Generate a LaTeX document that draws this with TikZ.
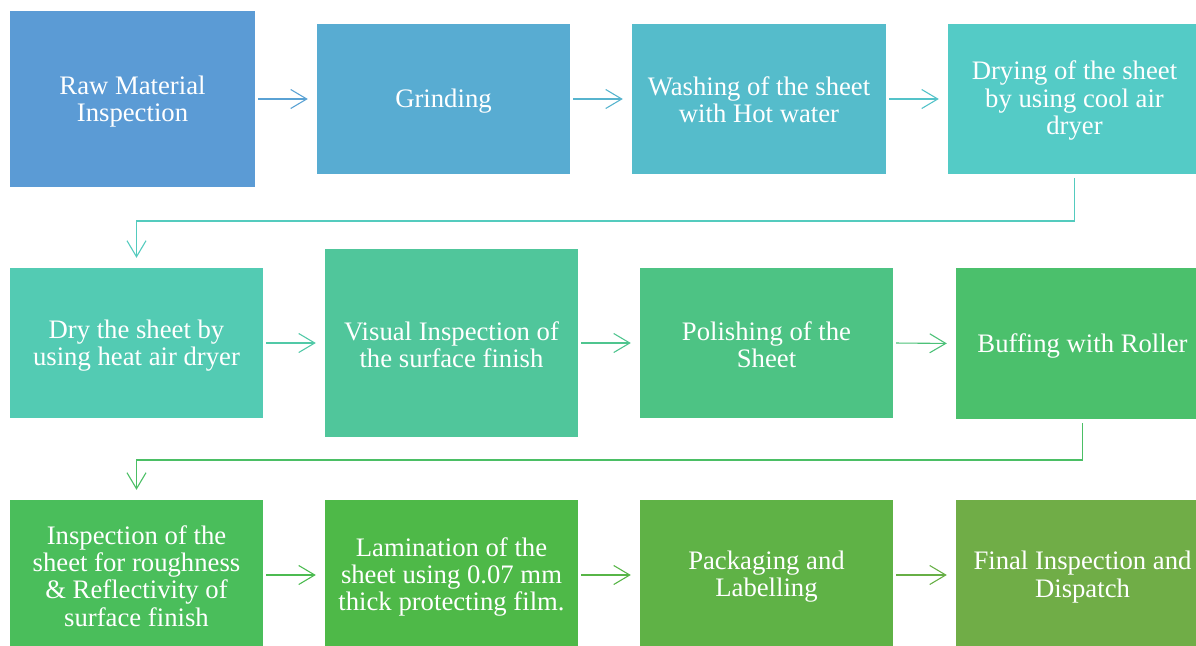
\documentclass[tikz,border=0pt]{standalone}
\usepackage{fontspec}
\setmainfont{Liberation Serif}
\usetikzlibrary{arrows.meta}
\definecolor{c1}{HTML}{5B9BD5}
\definecolor{c2}{HTML}{58ACD2}
\definecolor{c3}{HTML}{55BCCB}
\definecolor{c4}{HTML}{54CBC6}
\definecolor{c5}{HTML}{53CBB3}
\definecolor{c6}{HTML}{50C69B}
\definecolor{c7}{HTML}{4DC384}
\definecolor{c8}{HTML}{4BC06C}
\definecolor{c9}{HTML}{4ABE5B}
\definecolor{c10}{HTML}{4EB948}
\definecolor{c11}{HTML}{5FB246}
\definecolor{c12}{HTML}{70AD47}
\begin{document}
\begin{tikzpicture}[x=1pt,y=-1pt,
  box/.style={draw=none, fill=#1, inner sep=0pt},
  txt/.style={text=white, align=center, inner sep=0pt,
    font=\fontsize{26.7}{27.2}\selectfont},
  flow/.style={draw=#1, line width=1.1pt, -{Straight Barb[length=16pt,width=19pt]},
    shorten <=3pt, shorten >=9pt},
  turn/.style={draw=#1, line width=1.1pt, -{Straight Barb[length=16pt,width=19pt]},
    shorten <=4pt, shorten >=10pt}]
\useasboundingbox (0,0) rectangle (1196,645);
\clip (0,0) rectangle (1196,645);
% row 1
\node[box=c1, minimum width=245pt, minimum height=176pt] (b1) at (132.5,99) {};
\node[box=c2, minimum width=253pt, minimum height=150pt] (b2) at (443.5,99) {};
\node[box=c3, minimum width=254pt, minimum height=150pt] (b3) at (759,99) {};
\node[box=c4, minimum width=253pt, minimum height=150pt] (b4) at (1074.5,99) {};
% row 2
\node[box=c5, minimum width=253pt, minimum height=150pt] (b5) at (136.5,343) {};
\node[box=c6, minimum width=253pt, minimum height=188pt] (b6) at (451.5,343) {};
\node[box=c7, minimum width=253pt, minimum height=150pt] (b7) at (766.5,343) {};
\node[box=c8, minimum width=253pt, minimum height=151pt] (b8) at (1082.5,343.5) {};
% row 3
\node[box=c9, minimum width=253pt, minimum height=150pt] (b9) at (136.5,575) {};
\node[box=c10, minimum width=253pt, minimum height=150pt] (b10) at (451.5,575) {};
\node[box=c11, minimum width=253pt, minimum height=150pt] (b11) at (766.5,575) {};
\node[box=c12, minimum width=253pt, minimum height=150pt] (b12) at (1082.5,575) {};
% texts
\node[txt] (t1) at ([yshift=-2.5pt]b1.center) {Raw Material\\Inspection};
\node[txt] (t2) at ([yshift=-2.5pt]b2.center) {Grinding};
\node[txt] (t3) at ([yshift=-1pt]b3.center) {Washing of the sheet\\with Hot water};
\node[txt] (t4) at ([yshift=-1.5pt]b4.center) {Drying of the sheet\\by using cool air\\dryer};
\node[txt] (t5) at ([yshift=-2.5pt]b5.center) {Dry the sheet by\\using heat air dryer};
\node[txt] (t6) at ([yshift=-1.5pt]b6.center) {Visual Inspection of\\the surface finish};
\node[txt] (t7) at ([yshift=-1.5pt]b7.center) {Polishing of the\\Sheet};
\node[txt] (t8) at ([yshift=-2.5pt]b8.center) {Buffing with Roller};
\node[txt] (t9) at ([yshift=-1pt]b9.center) {Inspection of the\\sheet for roughness\\\& Reflectivity of\\surface finish};
\node[txt] (t10) at ([yshift=-2pt]b10.center) {Lamination of the\\sheet using 0.07 mm\\thick protecting film.};
\node[txt] (t11) at ([yshift=-2pt]b11.center) {Packaging and\\Labelling};
\node[txt] (t12) at ([yshift=-2pt]b12.center) {Final Inspection and\\Dispatch};
% connectors
\draw[flow=c1!60!c2] (b1.east) -- (b2.west);
\draw[flow=c2!50!c3] (b2.east) -- (b3.west);
\draw[flow=c3!50!c4] (b3.east) -- (b4.west);
\coordinate (k1) at (136.5,221);
\draw[turn=c4!60!c5] (b4.south) |- (k1) -- (b5.north);
\draw[flow=c5!50!c6] (b5.east) -- (b6.west);
\draw[flow=c6!50!c7] (b6.east) -- (b7.west);
\draw[flow=c7!50!c8] (b7.east) -- (b8.west);
\coordinate (k2) at (136.5,460);
\draw[turn=c8!60!c9] (b8.south) |- (k2) -- (b9.north);
\draw[flow=c9!50!c10] (b9.east) -- (b10.west);
\draw[flow=c10!50!c11] (b10.east) -- (b11.west);
\draw[flow=c11!50!c12] (b11.east) -- (b12.west);
\end{tikzpicture}
\end{document}
